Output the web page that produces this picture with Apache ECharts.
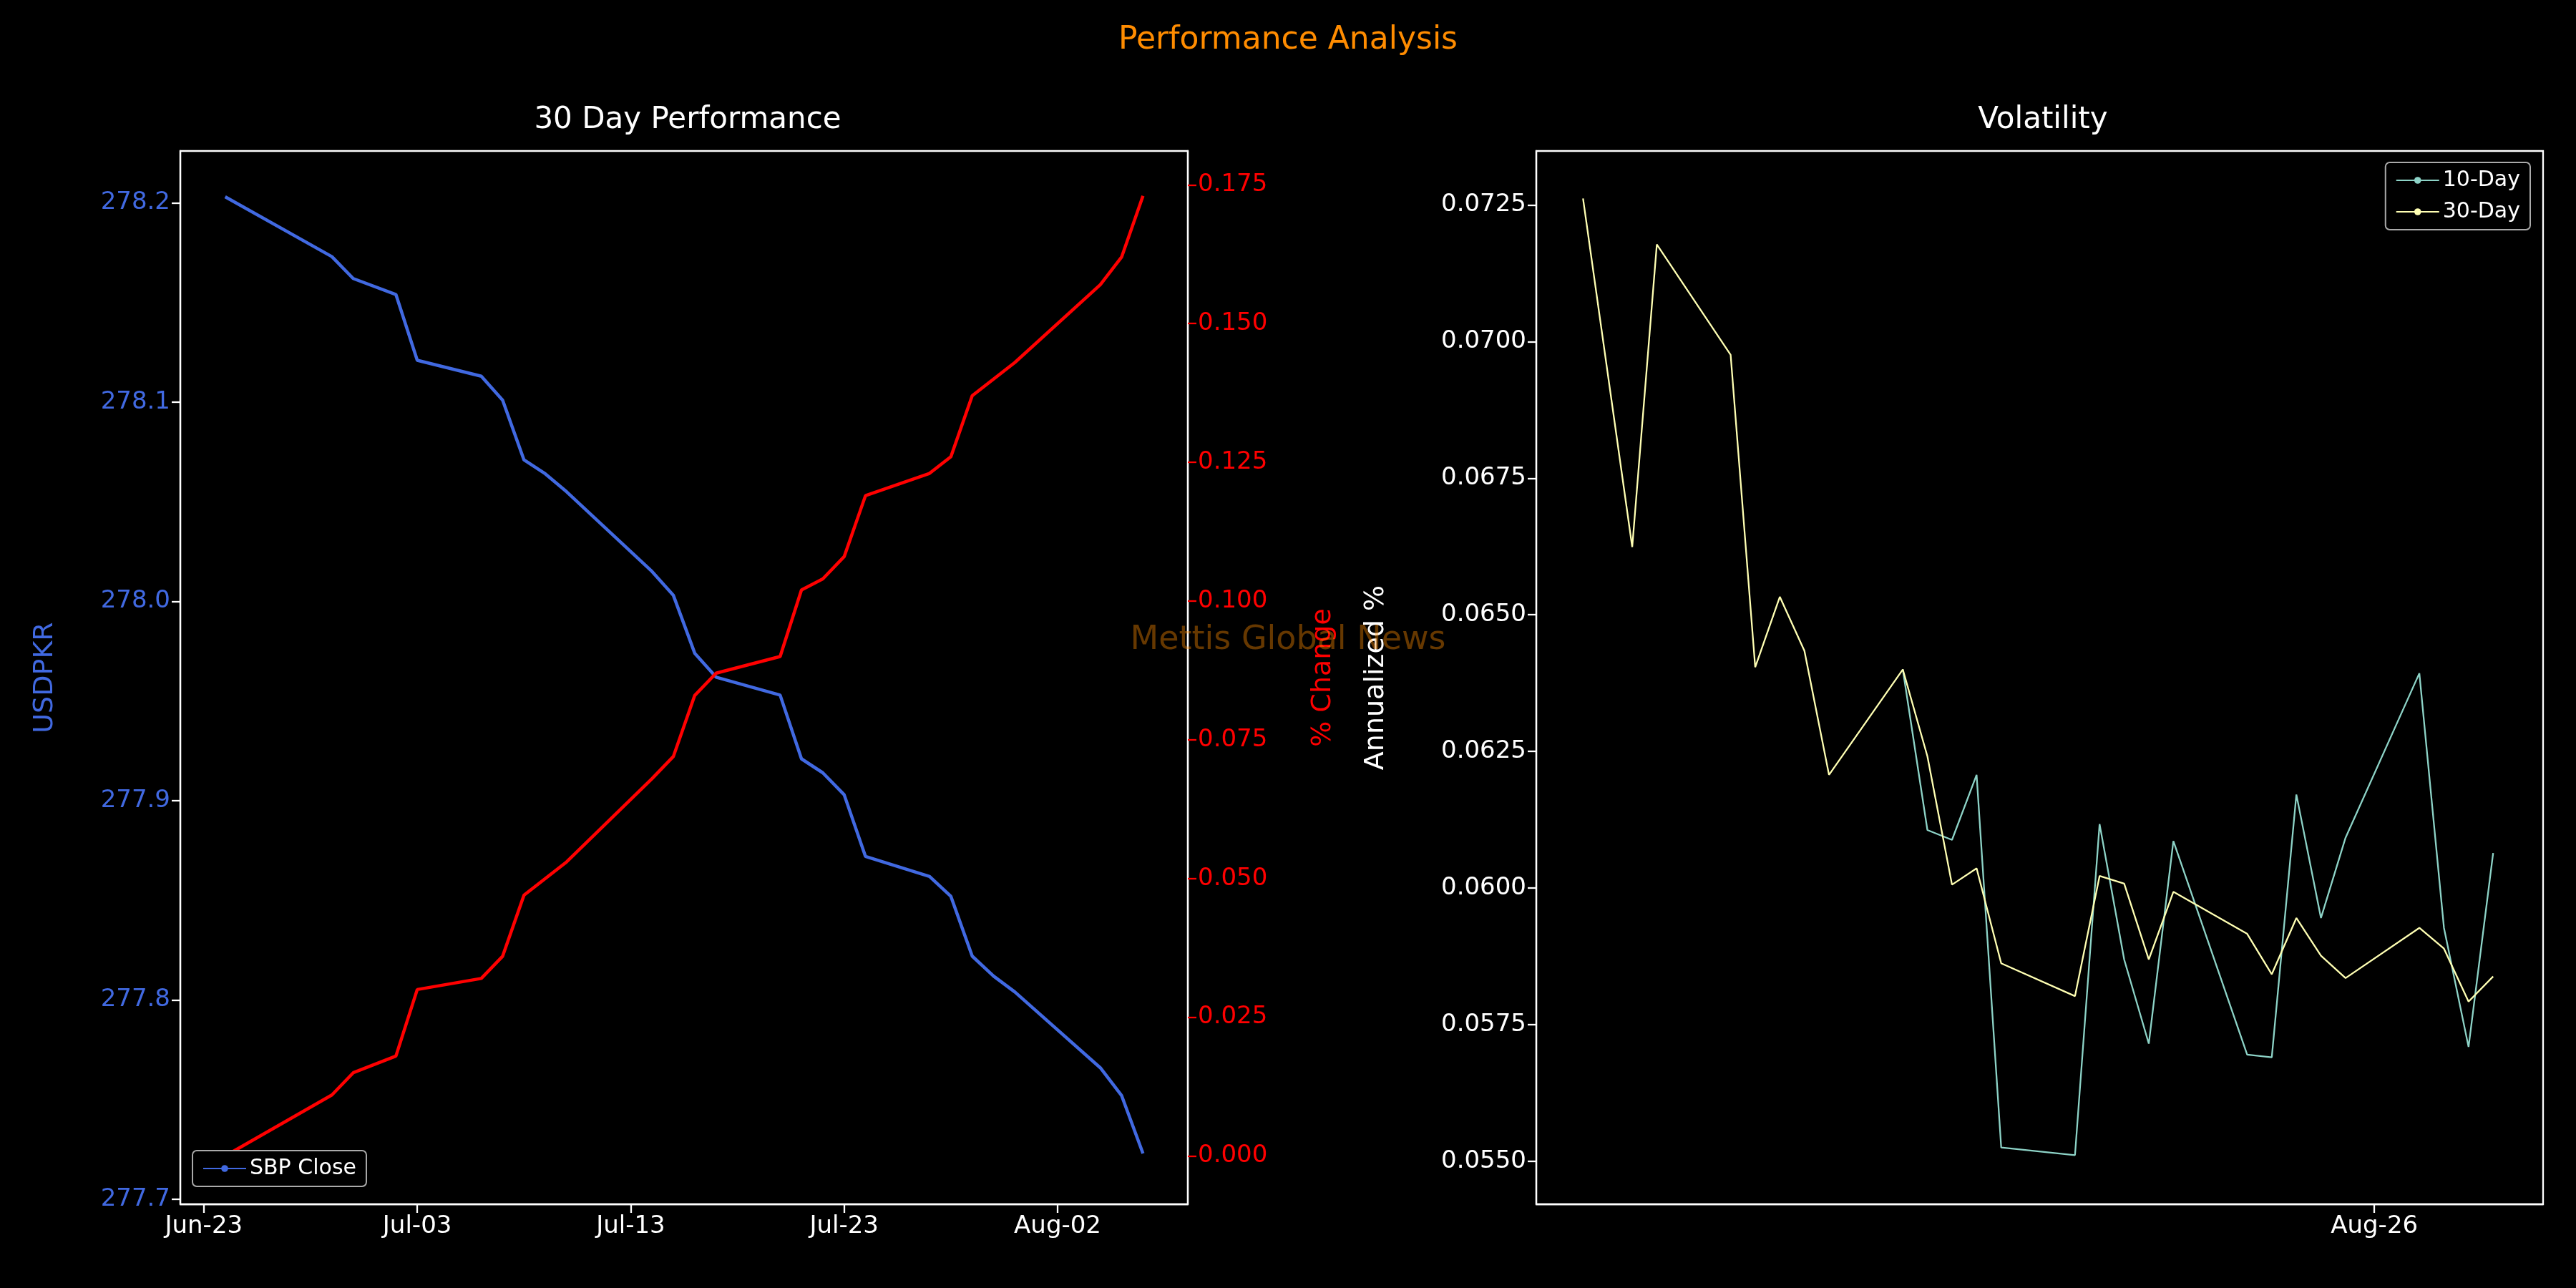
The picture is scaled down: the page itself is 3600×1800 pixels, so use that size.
<!DOCTYPE html>
<html>
<head>
<meta charset="utf-8">
<script src="https://cdn.jsdelivr.net/npm/echarts@6/dist/echarts.min.js"></script>
<style>html,body{margin:0;background:#000}#c{width:3600px;height:1800px}</style>
</head>
<body>
<div id="c"></div>
<script>
// 30 day performance: day offsets from Jun-23
var perfDays = [1, 6, 7, 9, 10, 13, 14, 15, 16, 17, 21, 22, 23, 24, 27, 28, 29, 30, 31, 34, 35, 36, 37, 38, 42, 43, 44];
var sbpClose = [278.203, 278.173, 278.162, 278.154, 278.121, 278.113, 278.101, 278.071, 278.064, 278.055, 278.015, 278.003, 277.974, 277.962,
  277.953, 277.921, 277.914, 277.903, 277.872, 277.862, 277.852, 277.822, 277.812, 277.804, 277.766, 277.752, 277.723];
var pctChange = [0.000, 0.011, 0.015, 0.018, 0.030, 0.032, 0.036, 0.047, 0.050, 0.053, 0.068, 0.072, 0.083, 0.087,
  0.090, 0.102, 0.104, 0.108, 0.119, 0.123, 0.126, 0.137, 0.140, 0.143, 0.157, 0.162, 0.173];
var perfTicks = [0, 10, 20, 30, 40];   // Jun-23, Jul-03, Jul-13, Jul-23, Aug-02
var leftTicks = [277.7, 277.8, 277.9, 278.0, 278.1, 278.2];
var rightTicks = [0, 0.025, 0.05, 0.075, 0.1, 0.125, 0.15, 0.175];

// volatility: day offsets from Jul-25
var vol30Days = [0, 2, 3, 6, 7, 8, 9, 10, 13, 14, 15, 16, 17, 20, 21, 22, 23, 24, 27, 28, 29, 30, 31, 34, 35, 36, 37];
var vol30 = [0.07262, 0.06624, 0.07178, 0.06976, 0.06404, 0.06533, 0.06434, 0.06207, 0.06400, 0.06241, 0.06006, 0.06036, 0.05862,
  0.05802, 0.06022, 0.06008, 0.05869, 0.05993, 0.05916, 0.05842, 0.05945, 0.05876, 0.05835, 0.05927, 0.05889, 0.05792, 0.05838];
var vol10Days = [13, 14, 15, 16, 17, 20, 21, 22, 23, 24, 27, 28, 29, 30, 31, 34, 35, 36, 37];
var vol10 = [0.06400, 0.06106, 0.06088, 0.06207, 0.05525, 0.05511, 0.06117, 0.05869, 0.05715, 0.06086, 0.05695, 0.05690,
  0.06171, 0.05945, 0.06092, 0.06393, 0.05927, 0.05709, 0.06064];
var volTicks = [32.17];   // Aug-26
var volYTicks = [0.055, 0.0575, 0.06, 0.0625, 0.065, 0.0675, 0.07, 0.0725];

var DAY = 86400000;
var perfBase = Date.UTC(2024, 5, 23), volBase = Date.UTC(2024, 6, 25);
var MON = ['Jan','Feb','Mar','Apr','May','Jun','Jul','Aug','Sep','Oct','Nov','Dec'];
function dateFmt(base) {
  return function (v) {
    var d = new Date(base + Math.round(v) * DAY); var dd = d.getUTCDate();
    return MON[d.getUTCMonth()] + '-' + (dd < 10 ? '0' : '') + dd;
  };
}
function pairs(days, vals) { return days.map(function (d, i) { return [d, vals[i]]; }); }

var FONT = 'DejaVu Sans';
var white = '#ffffff';
function axis(o, labelColor, tickColor, ticks, fmt) {
  o.axisLine = { show: true, onZero: false, lineStyle: { color: white, width: 2.3 } };
  o.axisTick = { show: true, length: 12, lineStyle: { color: tickColor, width: 2.3 }, customValues: ticks };
  o.axisLabel = { color: labelColor, fontSize: 34, fontFamily: FONT, margin: 14, customValues: ticks, formatter: fmt };
  o.splitLine = { show: false };
  return o;
}

var chart = echarts.init(document.getElementById('c'));
chart.setOption({
  backgroundColor: '#000',
  animation: false,
  title: [
    { text: 'Performance Analysis', left: 'center', top: 30, textStyle: { color: '#ff8c00', fontSize: 44, fontWeight: 'normal', fontFamily: FONT } },
    { text: '30 Day Performance', left: 956, textAlign: 'center', top: 142, textStyle: { color: white, fontSize: 42, fontWeight: 'normal', fontFamily: FONT } },
    { text: 'Volatility', left: 2850, textAlign: 'center', top: 142, textStyle: { color: white, fontSize: 42, fontWeight: 'normal', fontFamily: FONT } }
  ],
  graphic: [{ type: 'text', left: 'center', top: 872, z: 100,
    style: { text: 'Mettis Global News', fill: 'rgba(255,140,0,0.4)', fontSize: 46, fontFamily: FONT } }],
  legend: [
    { data: ['SBP Close'], left: 269, top: 1608, orient: 'vertical', backgroundColor: '#000', borderColor: '#aaa', borderWidth: 2, borderRadius: 6,
      padding: [10, 14], itemWidth: 60, itemHeight: 12, textStyle: { color: white, fontSize: 30, fontFamily: FONT } },
    { data: ['10-Day', '30-Day'], right: 64, top: 227, orient: 'vertical', backgroundColor: '#000', borderColor: '#aaa', borderWidth: 2, borderRadius: 6,
      padding: [10, 14], itemGap: 14, itemWidth: 60, itemHeight: 12, textStyle: { color: white, fontSize: 30, fontFamily: FONT } }
  ],
  grid: [
    { left: 252, right: 1940, top: 211, bottom: 117, show: true, borderColor: white, borderWidth: 2.3, backgroundColor: '#000' },
    { left: 2147, right: 46, top: 211, bottom: 117, show: true, borderColor: white, borderWidth: 2.3, backgroundColor: '#000' }
  ],
  xAxis: [
    axis({ type: 'value', gridIndex: 0, min: -1.1, max: 46.1 }, white, white, perfTicks, dateFmt(perfBase)),
    axis({ type: 'value', gridIndex: 1, min: -1.9, max: 39.03 }, white, white, volTicks, dateFmt(volBase))
  ],
  yAxis: [
    axis({ type: 'value', gridIndex: 0, min: 277.6975, max: 278.226,
      name: 'USDPKR', nameLocation: 'middle', nameGap: 170, nameTextStyle: { color: '#4169e1', fontSize: 38, fontFamily: FONT } },
      '#4169e1', white, leftTicks, function (v) { return v.toFixed(1); }),
    axis({ type: 'value', gridIndex: 0, position: 'right', min: -0.0087, max: 0.1811,
      name: '% Change', nameLocation: 'middle', nameGap: 170, nameTextStyle: { color: '#ff0000', fontSize: 38, fontFamily: FONT } },
      '#ff0000', '#ff0000', rightTicks, function (v) { return v.toFixed(3); }),
    axis({ type: 'value', gridIndex: 1, min: 0.05421, max: 0.07349,
      name: 'Annualized %', nameLocation: 'middle', nameGap: 205, nameTextStyle: { color: white, fontSize: 38, fontFamily: FONT } },
      white, white, volYTicks, function (v) { return v.toFixed(4); })
  ],
  series: [
    { name: 'SBP Close', type: 'line', xAxisIndex: 0, yAxisIndex: 0, symbol: 'none', color: '#4169e1', lineStyle: { width: 4.5 },
      data: pairs(perfDays, sbpClose) },
    { name: '% Change', type: 'line', xAxisIndex: 0, yAxisIndex: 1, symbol: 'none', color: '#ff0000', lineStyle: { width: 4.5 },
      data: pairs(perfDays, pctChange) },
    { name: '10-Day', type: 'line', xAxisIndex: 1, yAxisIndex: 2, symbol: 'none', color: '#8dd3c7', lineStyle: { width: 2.3 },
      data: pairs(vol10Days, vol10) },
    { name: '30-Day', type: 'line', xAxisIndex: 1, yAxisIndex: 2, symbol: 'none', color: '#ffffb3', lineStyle: { width: 2.3 },
      data: pairs(vol30Days, vol30) }
  ]
});
</script>
</body>
</html>
